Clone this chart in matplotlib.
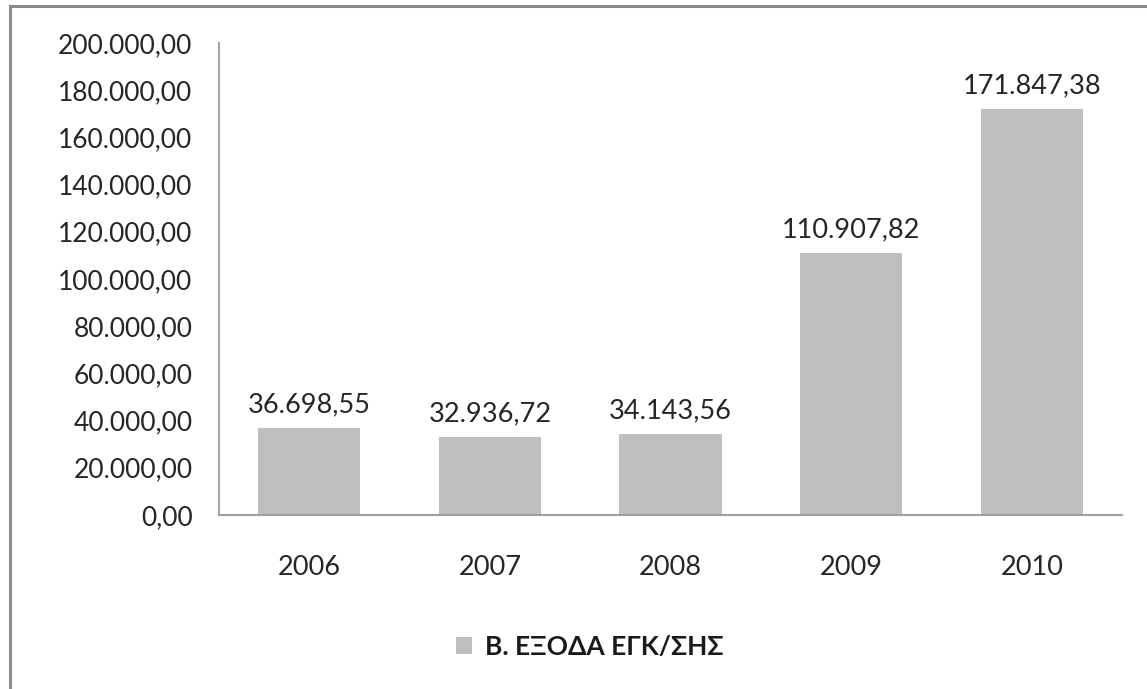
import matplotlib
matplotlib.use("Agg")
import matplotlib.pyplot as plt
from matplotlib.patches import Rectangle
from matplotlib.ticker import FuncFormatter, MultipleLocator

years = ["2006", "2007", "2008", "2009", "2010"]
values = [36698.55, 32936.72, 34143.56, 110907.82, 171847.38]
series_name = "Β. ΕΞΟΔΑ ΕΓΚ/ΣΗΣ"

plt.rcParams['font.family'] = ['Lato', 'DejaVu Sans']

def eu(v, pos=None):
    s = f"{v:,.2f}"
    return s.replace(",", "X").replace(".", ",").replace("X", ".")

W, H = 1147, 689
fig = plt.figure(figsize=(W / 100, H / 100), dpi=100)
ax = fig.add_axes([219 / W, 1 - 515 / H, (1122 - 219) / W, (515 - 43) / H])

x = list(range(len(years)))
bars = ax.bar(x, values, width=0.565, color="#bfbfbf", label=series_name, zorder=2)
ax.set_xlim(-0.5, len(years) - 0.5)
ax.set_ylim(0, 200000)
ax.yaxis.set_major_locator(MultipleLocator(20000))
ax.yaxis.set_major_formatter(FuncFormatter(eu))
ax.set_xticks(x)
ax.set_xticklabels(years)

for s in ["top", "right"]:
    ax.spines[s].set_visible(False)
ax.spines["left"].set_color("#a6a6a6")
ax.spines["bottom"].set_color("#a0a0a0")
ax.spines["left"].set_linewidth(1.5)
ax.spines["bottom"].set_linewidth(1.5)
ax.tick_params(axis="y", length=0, pad=19, labelsize=19, labelcolor="#262626")
ax.tick_params(axis="x", length=0, pad=29, labelsize=19.5, labelcolor="#262626")

for b, v in zip(bars, values):
    ax.annotate(eu(v), (b.get_x() + b.get_width() / 2, v), xytext=(0, 8),
                textcoords="offset points", ha="center", va="bottom",
                fontsize=19.5, color="#262626")

leg = fig.legend(handles=[bars], labels=[series_name], loc="center",
                 bbox_to_anchor=(590 / W, 1 - 647 / H), frameon=False,
                 prop={"size": 19, "weight": "bold"}, handlelength=0.6,
                 handleheight=0.6, handletextpad=0.5)
for t in leg.get_texts():
    t.set_color("#1a1a1a")

fig.patches.append(Rectangle((10 / W, -0.1), 1.2, 1 - 6 / H + 0.1,
                             transform=fig.transFigure, fill=False,
                             edgecolor="#8c8c8c", linewidth=2.2))

fig.savefig("out.png", dpi=100)
